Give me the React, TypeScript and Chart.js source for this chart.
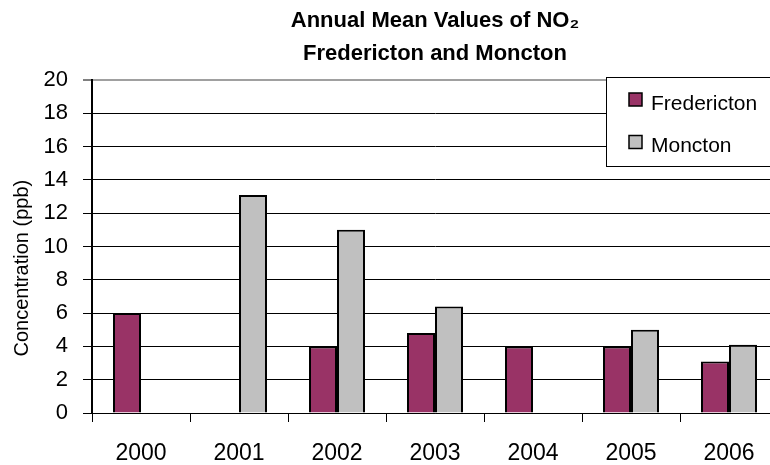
import React, { useEffect, useRef } from 'react';
import { Chart, registerables } from 'chart.js';

Chart.register(...registerables);

const years = ['2000', '2001', '2002', '2003', '2004', '2005', '2006'];
const fredericton = [6, null, 4, 4.8, 4, 4, 3.1];
const moncton = [null, 13.1, 11, 6.4, null, 5, 4.1];
const seriesNames = ['Fredericton', 'Moncton'];
const titleLines = ['Annual Mean Values of NO\u2082', 'Fredericton and Moncton'];
const yAxisTitle = 'Concentration (ppb)';
const yMin = 0;
const yMax = 20;
const yStep = 2;

const FONT = '"Liberation Sans", Arial, Helvetica, sans-serif';
const FRED_COLOR = '#993366';
const MONC_COLOR = '#C0C0C0';

const boxLegend = {
  id: 'boxLegend',
  afterDatasetsDraw(chart: any) {
    const { ctx, chartArea, data } = chart;
    const x = chartArea.right - 172;
    const y = chartArea.top - 3;
    const w = 170;
    const h = 89;
    ctx.save();
    ctx.fillStyle = '#ffffff';
    ctx.fillRect(x, y, w, h);
    ctx.strokeStyle = '#000000';
    ctx.lineWidth = 1;
    ctx.strokeRect(x + 0.5, y + 0.5, w, h);
    data.datasets.forEach((ds: any, i: number) => {
      const sy = y + 16 + i * 42.5;
      ctx.fillStyle = ds.backgroundColor;
      ctx.fillRect(x + 23, sy, 13, 13);
      ctx.lineWidth = 1.5;
      ctx.strokeStyle = '#000000';
      ctx.strokeRect(x + 23, sy, 13, 13);
      ctx.fillStyle = '#000000';
      ctx.font = `21px ${FONT}`;
      ctx.textBaseline = 'alphabetic';
      ctx.textAlign = 'left';
      ctx.fillText(ds.label, x + 45, y + 33 + i * 42);
    });
    ctx.restore();
  },
};

const yTitlePlugin = {
  id: 'yTitlePlugin',
  afterDraw(chart: any) {
    const { ctx, chartArea } = chart;
    const cy = chartArea.top + (chartArea.bottom - chartArea.top) * 0.565;
    ctx.save();
    ctx.translate(22, cy);
    ctx.rotate(-Math.PI / 2);
    ctx.fillStyle = '#000000';
    ctx.font = `20px ${FONT}`;
    ctx.textAlign = 'center';
    ctx.textBaseline = 'middle';
    ctx.fillText(yAxisTitle, 0, 0);
    ctx.restore();
  },
};

export default function App() {
  const canvasRef = useRef<HTMLCanvasElement | null>(null);

  useEffect(() => {
    if (!canvasRef.current) return;
    const chart = new Chart(canvasRef.current, {
      type: 'bar',
      data: {
        labels: years,
        datasets: [
          {
            label: seriesNames[0],
            data: fredericton,
            backgroundColor: FRED_COLOR,
            borderColor: '#000000',
            borderWidth: 2,
            barPercentage: 1,
            categoryPercentage: 0.5714,
          },
          {
            label: seriesNames[1],
            data: moncton,
            backgroundColor: MONC_COLOR,
            borderColor: '#000000',
            borderWidth: 2,
            barPercentage: 1,
            categoryPercentage: 0.5714,
          },
        ],
      },
      options: {
        responsive: false,
        animation: false,
        devicePixelRatio: 1,
        layout: { padding: { left: 0, right: 12, top: 0, bottom: 0 } },
        plugins: {
          legend: { display: false },
          tooltip: { enabled: false },
          title: {
            display: true,
            text: titleLines,
            fullSize: false,
            color: '#000000',
            font: { family: FONT, size: 22, weight: 'bold', lineHeight: 1.5 },
            padding: { top: 4.5, bottom: 9.5 },
          },
        },
        scales: {
          x: {
            grid: {
              display: true,
              drawOnChartArea: false,
              drawTicks: true,
              tickLength: 9,
              color: '#000000',
              offset: true,
            },
            border: { display: true, color: '#000000', width: 1 },
            ticks: {
              color: '#000000',
              font: { family: FONT, size: 23 },
              padding: 18,
              maxRotation: 0,
              autoSkip: false,
            },
            afterFit: (s: any) => {
              s.height = 52;
            },
          },
          y: {
            min: yMin,
            max: yMax,
            ticks: {
              stepSize: yStep,
              color: '#000000',
              font: { family: FONT, size: 22 },
              padding: 15,
            },
            grid: {
              color: (c: any) => (c.tick && c.tick.value === yMax ? '#a0a0a0' : '#000000'),
              lineWidth: (c: any) => (c.tick && c.tick.value === yMax ? 2 : 1),
              tickColor: '#000000',
              tickLength: 9,
              tickWidth: 1,
            },
            border: { display: true, color: '#000000', width: 2 },
            title: { display: false, text: yAxisTitle },
            afterFit: (s: any) => {
              s.width = 92;
            },
          },
        },
      },
      plugins: [boxLegend, yTitlePlugin],
    } as any);
    return () => chart.destroy();
  }, []);

  return (
    <div
      style={{
        position: 'fixed',
        left: 0,
        top: 0,
        width: 770,
        height: 465,
        overflow: 'hidden',
        background: '#ffffff',
      }}
    >
      <canvas ref={canvasRef} width={790} height={465} style={{ display: 'block' }} />
    </div>
  );
}
